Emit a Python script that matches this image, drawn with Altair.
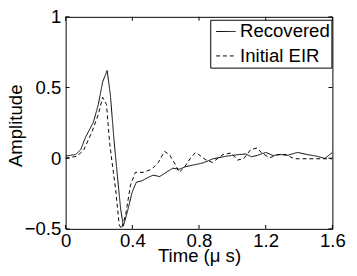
import altair as alt
import pandas as pd

# ---- data ----
t_recovered = [0.00, 0.06, 0.09, 0.12, 0.167, 0.196, 0.222, 0.249, 0.268, 0.29, 0.31, 0.33,
               0.346, 0.37, 0.399, 0.424, 0.457, 0.496, 0.526, 0.564, 0.603, 0.642, 0.681,
               0.72, 0.759, 0.80, 0.827, 0.885, 0.963, 1.041, 1.08, 1.115, 1.15, 1.20, 1.244,
               1.292, 1.33, 1.39, 1.448, 1.507, 1.555, 1.60]
v_recovered = [0.015, 0.026, 0.06, 0.15, 0.256, 0.38, 0.54, 0.62, 0.45, 0.13, -0.12, -0.36,
               -0.48, -0.38, -0.24, -0.17, -0.16, -0.135, -0.12, -0.13, -0.10, -0.071, -0.078,
               -0.06, -0.05, -0.04, -0.032, -0.004, 0.014, 0.026, 0.03, 0.01, 0.02, 0.041, 0.019,
               0.026, 0.02, 0.041, 0.026, 0.014, -0.002, 0.041]

t_initial = [0.00, 0.07, 0.109, 0.158, 0.196, 0.222, 0.245, 0.264, 0.284, 0.30, 0.321, 0.335,
             0.36, 0.389, 0.418, 0.467, 0.516, 0.555, 0.593, 0.623, 0.652, 0.681, 0.71, 0.749,
             0.778, 0.798, 0.837, 0.88, 0.944, 0.993, 1.031, 1.07, 1.109, 1.148, 1.176, 1.224,
             1.273, 1.321, 1.37, 1.60]
v_initial = [0.00, 0.014, 0.06, 0.187, 0.31, 0.43, 0.38, 0.106, -0.08, -0.22, -0.47, -0.50,
             -0.40, -0.19, -0.10, -0.10, -0.078, -0.032, 0.048, 0.025, -0.032, -0.10, -0.067, 0.0,
             0.04, 0.026, -0.009, -0.03, 0.026, 0.037, -0.014, 0.0, 0.06, 0.072, 0.037, 0.003,
             0.026, 0.026, -0.004, -0.004]

series_names = ["Recovered", "Initial EIR"]
x_ticks = [0, 0.4, 0.8, 1.2, 1.6]
y_ticks = [-0.5, 0, 0.5, 1]

df = pd.concat([
    pd.DataFrame({"t": t_recovered, "v": v_recovered, "series": series_names[0]}),
    pd.DataFrame({"t": t_initial, "v": v_initial, "series": series_names[1]}),
], ignore_index=True)
xt = pd.DataFrame({"t": x_ticks})
yt = pd.DataFrame({"v": y_ticks})

W, H = 273, 217
TICK = 4
FONT = "Liberation Sans"
FS = 19

x_scale = alt.Scale(domain=[0, 1.6], nice=False, zero=False)
y_scale = alt.Scale(domain=[-0.5, 1], nice=False, zero=False)

lines = alt.Chart(df).mark_line(color="black", strokeWidth=1, clip=True).encode(
    x=alt.X("t:Q", scale=x_scale,
            axis=alt.Axis(values=x_ticks, format="~g", title="Time (μ s)",
                          labelPadding=3, labelFlush=False, labelOverlap=False,
                          titleY=33, titleBaseline="alphabetic")),
    y=alt.Y("v:Q", scale=y_scale,
            axis=alt.Axis(values=y_ticks, format="~g", title="Amplitude",
                          labelPadding=5, labelOverlap=False,
                          titleX=-45.5, titleY=111, titleAngle=270,
                          titleBaseline="alphabetic", titleAlign="center")),
    strokeDash=alt.StrokeDash(
        "series:N",
        scale=alt.Scale(domain=series_names, range=[[1, 0], [4, 3]]),
        legend=alt.Legend(orient="none", legendX=148, legendY=3, title=None,
                          symbolType="stroke", symbolSize=400, symbolStrokeWidth=1,
                          symbolStrokeColor="black", symbolOffset=4,
                          labelFont=FONT, labelFontSize=FS, labelColor="black",
                          labelOffset=4, padding=1.5, rowPadding=4,
                          strokeColor="black", fillColor="white", cornerRadius=0),
    ),
)

bottom_ticks = alt.Chart(xt).mark_rule(color="black", strokeWidth=1).encode(
    x=alt.X("t:Q", scale=x_scale), y=alt.value(H), y2=alt.value(H - TICK))
top_ticks = alt.Chart(xt).mark_rule(color="black", strokeWidth=1).encode(
    x=alt.X("t:Q", scale=x_scale), y=alt.value(0), y2=alt.value(TICK))
left_ticks = alt.Chart(yt).mark_rule(color="black", strokeWidth=1).encode(
    y=alt.Y("v:Q", scale=y_scale), x=alt.value(0), x2=alt.value(TICK))
right_ticks = alt.Chart(yt).mark_rule(color="black", strokeWidth=1).encode(
    y=alt.Y("v:Q", scale=y_scale), x=alt.value(W), x2=alt.value(W - TICK))

chart = alt.layer(lines, bottom_ticks, top_ticks, left_ticks, right_ticks).properties(
    width=W, height=H,
    autosize=alt.AutoSizeParams(type="none"),
    padding={"left": 59, "top": 6, "right": 17, "bottom": 37},
    background="white",
).configure_view(
    stroke="black", strokeWidth=1
).configure_axis(
    labelFont=FONT, titleFont=FONT, labelFontSize=FS, titleFontSize=FS,
    labelColor="black", titleColor="black", titleFontWeight="normal",
    grid=False, ticks=False, tickSize=0, domain=False,
)

chart.save("out.html", embed_options={"renderer": "svg", "actions": False})
